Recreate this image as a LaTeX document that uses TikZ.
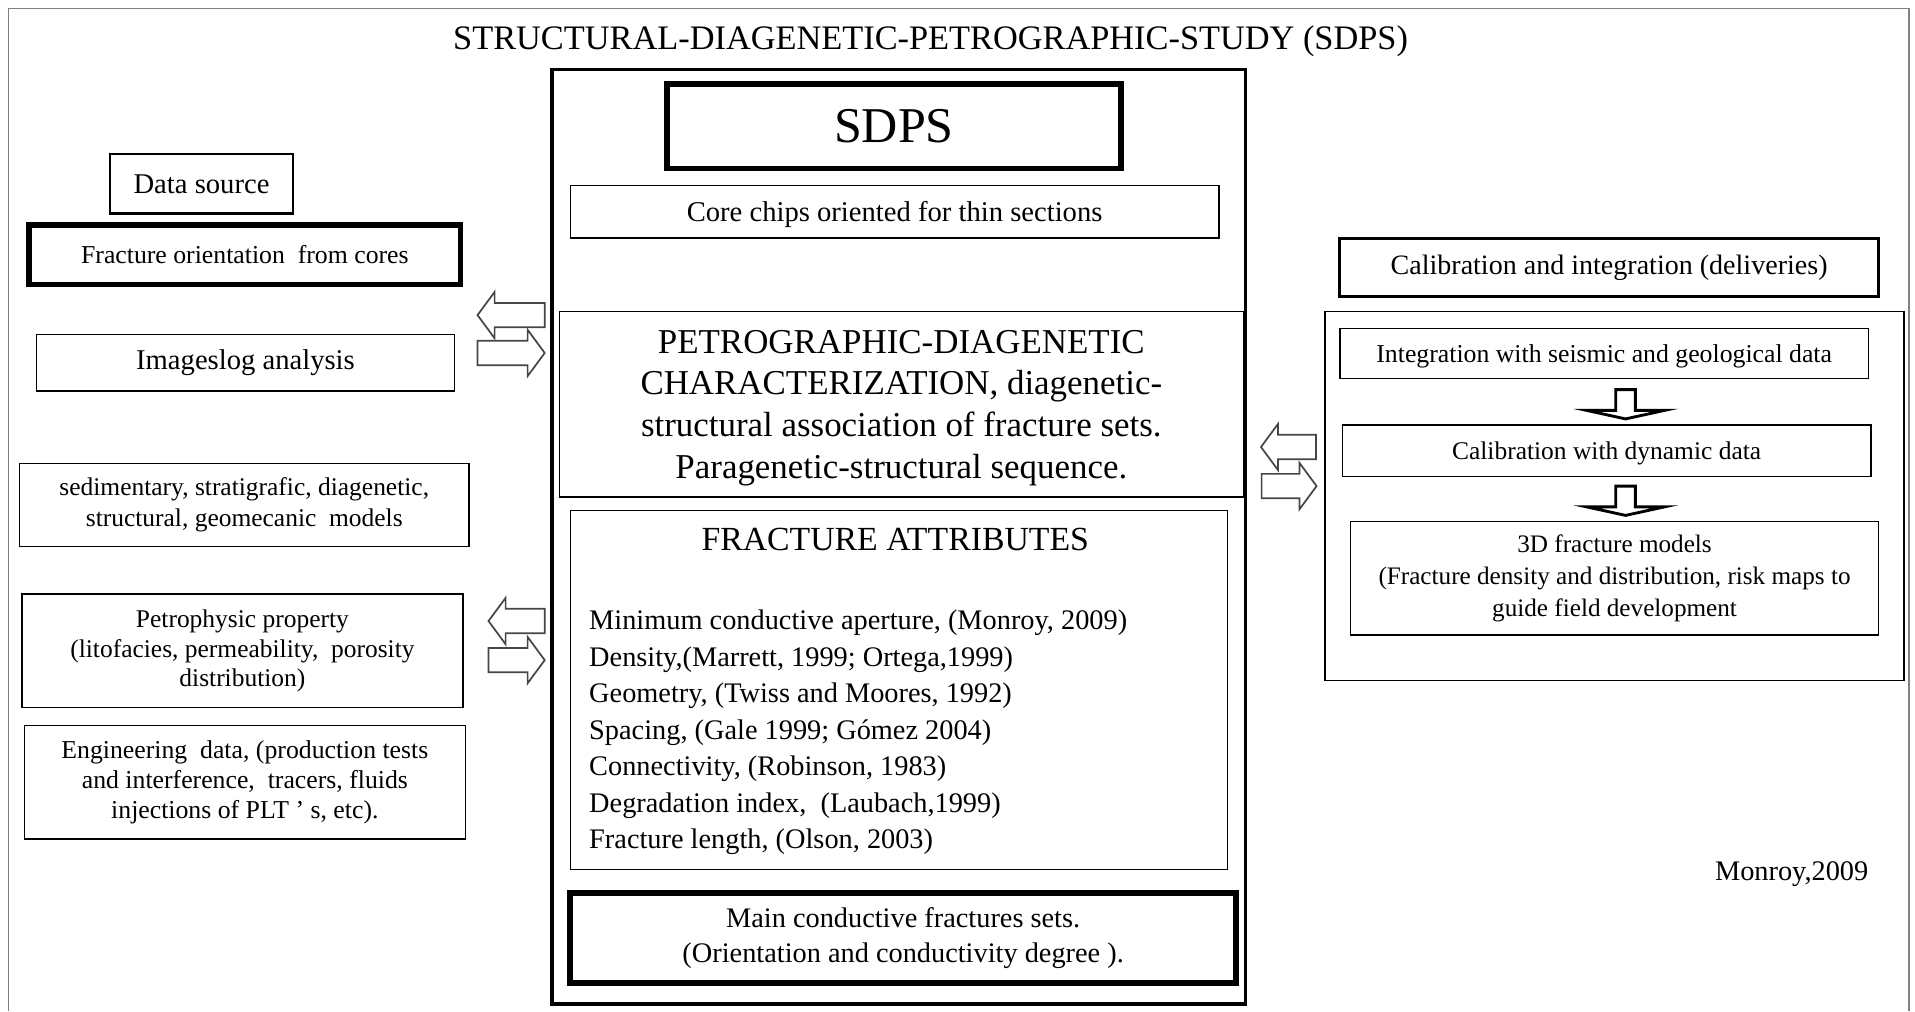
\documentclass[tikz,border=0pt]{standalone}
\usepackage{fontspec}
\setmainfont{Liberation Serif}
\definecolor{FrameGray}{RGB}{128,128,128}
\definecolor{ArrowGray}{RGB}{70,70,70}

\tikzset{
  bx/.style 2 args={draw,line width=0.5pt,inner sep=0pt,align=center,
    minimum width=#1*0.015cm,minimum height=#2*0.015cm},
  medium/.style={line width=1.1pt},
  heavy/.style={line width=2pt},
  arrline/.style={draw=ArrowGray,fill=white,line width=0.6pt},
  downline/.style={draw=black,fill=white,line width=1pt},
  pics/blockarr/.style={code={
    \draw[arrline] (0,0)--(14,-19)--(14,-10)--(#1,-10)--(#1,10)--(14,10)--(14,19)--cycle;}},
  pics/downarr/.style={code={
    \draw[downline] (-8,0)--(8,0)--(8,17)--(32,17)--(0,24)--(-32,17)--(-8,17)--cycle;}},
}

\begin{document}
\begin{tikzpicture}[x=0.015cm,y=-0.015cm]
  \useasboundingbox (0,0) rectangle (1568,828);
  \draw[FrameGray,line width=0.6pt] (7,828)--(7,7)--(1563,7)--(1563,828);
  \node[font=\fontsize{12}{14}\selectfont] (title) at (762,34)
    {STRUCTURAL-DIAGENETIC-PETROGRAPHIC-STUDY (SDPS)};

  \node[bx={568}{765},medium] (core) at (736,439.5) {};
  \node[bx={372}{69},heavy,font=\fontsize{17.5}{20}\selectfont] (sdps) at (732,103.5) {SDPS};
  \node[bx={531}{43},text depth=0pt,font=\fontsize{10}{12}\selectfont] (chips) at (732.5,173.5)
    {Core chips oriented for thin sections};
  \node[bx={560}{152},text depth=0pt,font=\fontsize{12.2}{14.6}\selectfont] (petrog) at (738,331)
    {PETROGRAPHIC-DIAGENETIC\\CHARACTERIZATION, diagenetic-\\structural association of fracture sets.\\Paragenetic-structural sequence.};
  \node[bx={538}{294}] (fracattr) at (736,565) {};
  \node[font=\fontsize{11.8}{14}\selectfont] (fractitle) at (733,442) {FRACTURE ATTRIBUTES};
  \node[anchor=north west,align=left,inner sep=0pt,font=\fontsize{9.9}{12.75}\selectfont] (fraclist) at (482,499)
    {Minimum conductive aperture, (Monroy, 2009)\\
     Density,(Marrett, 1999; Ortega,1999)\\
     Geometry, (Twiss and Moores, 1992)\\
     Spacing, (Gale 1999; Gómez 2004)\\
     Connectivity, (Robinson, 1983)\\
     Degradation index, \ (Laubach,1999)\\
     Fracture length, (Olson, 2003)};
  \node[bx={545}{74},heavy,font=\fontsize{9.9}{12}\selectfont] (mainfrac) at (739.5,768)
    {Main conductive fractures sets.\\(Orientation and conductivity degree ).};

  \node[bx={150}{49},line width=0.95pt,font=\fontsize{10}{12}\selectfont] (datasrc) at (165,150.5) {Data source};
  \node[bx={353}{49},heavy,font=\fontsize{9}{11}\selectfont] (fraccores) at (200.5,208.5)
    {Fracture orientation \ from cores};
  \node[bx={342}{46},font=\fontsize{10}{12}\selectfont] (imglog) at (201,297) {Imageslog analysis};
  \node[bx={368}{68},font=\fontsize{8.9}{10.7}\selectfont] (sedim) at (200,413.5)
    {sedimentary, stratigrafic, diagenetic,\\structural, geomecanic \ models};
  \node[bx={361}{93},font=\fontsize{8.9}{10.2}\selectfont] (petro) at (198.5,533)
    {Petrophysic property\\(litofacies, permeability, \ porosity\\distribution)};
  \node[bx={361}{93},font=\fontsize{9}{10.5}\selectfont] (engin) at (200.5,640.5)
    {Engineering \ data, (production tests\\and interference, \ tracers, fluids\\injections of PLT ’ s, etc).};

  \node[bx={441}{48},medium,font=\fontsize{9.8}{12}\selectfont] (calibhead) at (1317.5,219)
    {Calibration and integration (deliveries)};
  \node[bx={474}{302}] (rightbox) at (1322,406) {};
  \node[bx={433}{41},text depth=0pt,font=\fontsize{9}{11}\selectfont] (integ) at (1313.5,289.5)
    {Integration with seismic and geological data};
  \node[bx={433}{42},text depth=0pt,font=\fontsize{8.9}{11}\selectfont] (dyncal) at (1315.5,369)
    {Calibration with dynamic data};
  \node[bx={432}{93},font=\fontsize{8.8}{11.3}\selectfont] (models) at (1322,473.5)
    {3D fracture models\\(Fracture density and distribution, risk maps to\\guide field development};
  \node[font=\fontsize{9.9}{12}\selectfont] (monroy) at (1467,716) {Monroy,2009};

  \pic at (391,258) {blockarr=55};
  \pic[xscale=-1] at (446,289) {blockarr=55};
  \pic at (400,508.5) {blockarr=46};
  \pic[xscale=-1] at (446,540.5) {blockarr=46};
  \pic at (1032.5,366) {blockarr=45};
  \pic[xscale=-1] at (1078,398) {blockarr=45};
  \pic at (1331,319) {downarr};
  \pic at (1331,398) {downarr};
\end{tikzpicture}
\end{document}
